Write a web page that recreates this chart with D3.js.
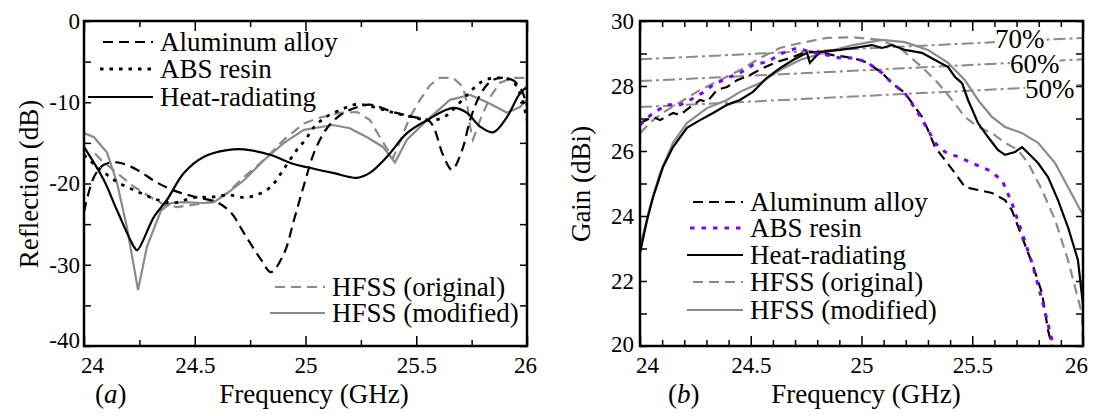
<!DOCTYPE html>
<html lang="en">
<head>
<meta charset="UTF-8">
<script src="https://d3js.org/d3.v7.min.js"></script>
<title>Reflection and gain</title>
<style>
  body { margin: 0; background: #fff; }
  svg, svg text { font-family: "Liberation Serif", "Times New Roman", Times, "DejaVu Serif", serif; }
  svg text { fill: #000; }
  .line { fill: none; }
</style>
</head>
<body>
<svg id="chart" width="1098" height="416" font-family="Liberation Serif"></svg>
<script>
// ---------- (a) reflection, [GHz, dB] ----------
var reflAlum = [[24.0,-23.5],[24.045,-19.2],[24.09,-17.7],[24.149,-17.4],[24.239,-18.3],[24.33,-19.9],
  [24.42,-21.0],[24.51,-21.7],[24.60,-22.3],[24.664,-23.6],[24.722,-26.1],[24.80,-29.4],[24.844,-30.9],
  [24.903,-28.6],[24.948,-24.5],[24.993,-20.2],[25.043,-15.9],[25.097,-13.2],[25.156,-11.6],[25.223,-10.7],
  [25.29,-10.3],[25.395,-11.2],[25.485,-11.8],[25.562,-12.4],[25.621,-16.5],[25.661,-18.3],[25.707,-15.9],
  [25.743,-12.2],[25.788,-9.1],[25.833,-7.5],[25.878,-7.0],[25.937,-7.3],[25.977,-8.6],[26.0,-10.5]];
var reflAbs = [[24.0,-16.5],[24.07,-18.2],[24.15,-19.8],[24.25,-21.1],[24.33,-22.0],[24.40,-22.4],
  [24.50,-21.7],[24.57,-21.7],[24.65,-21.4],[24.72,-21.7],[24.78,-21.4],[24.844,-20.4],[24.90,-18.3],
  [24.96,-15.9],[25.0,-14.6],[25.04,-13.0],[25.10,-11.7],[25.17,-10.8],[25.22,-10.3],[25.28,-10.4],
  [25.35,-10.9],[25.40,-11.3],[25.48,-11.8],[25.55,-12.2],[25.62,-11.9],[25.67,-10.8],[25.74,-8.8],
  [25.80,-7.4],[25.86,-7.0],[25.93,-7.3],[25.97,-9.0],[26.0,-12.2]];
var reflHeat = [[24.0,-15.5],[24.09,-19.6],[24.149,-23.3],[24.226,-27.8],[24.24,-28.2],[24.316,-24.1],
  [24.375,-22.0],[24.451,-18.7],[24.542,-16.7],[24.646,-15.9],[24.722,-15.8],[24.844,-16.5],[24.935,-17.5],
  [25.007,-18.0],[25.124,-18.7],[25.233,-19.3],[25.29,-18.7],[25.368,-16.7],[25.458,-13.8],[25.549,-12.2],
  [25.666,-10.7],[25.729,-11.3],[25.788,-13.0],[25.847,-13.7],[25.91,-11.8],[25.968,-8.9],[26.0,-8.1]];
var reflOrig = [[24.05,-16.3],[24.077,-17.1],[24.149,-18.7],[24.226,-20.4],[24.302,-21.7],[24.361,-22.6],
  [24.42,-22.9],[24.497,-22.6],[24.573,-22.3],[24.646,-21.2],[24.722,-19.2],[24.813,-17.1],[24.903,-14.6],
  [24.993,-12.6],[25.065,-11.9],[25.156,-11.3],[25.233,-11.2],[25.291,-12.2],[25.336,-14.3],[25.395,-16.9],
  [25.472,-11.8],[25.517,-9.7],[25.562,-7.9],[25.607,-7.0],[25.666,-7.0],[25.711,-8.1],[25.729,-10.1],
  [25.743,-13.0],[25.756,-14.6],[25.788,-12.2],[25.833,-9.4],[25.878,-7.6],[25.937,-7.0],[26.0,-7.0]];
var reflMod = [[24.0,-13.8],[24.045,-14.3],[24.104,-16.2],[24.149,-19.9],[24.194,-25.4],[24.244,-33.1],
  [24.284,-27.8],[24.348,-23.3],[24.393,-22.4],[24.451,-22.3],[24.542,-22.4],[24.587,-22.3],[24.646,-21.2],
  [24.722,-19.6],[24.813,-17.1],[24.903,-15.0],[24.993,-13.4],[25.124,-12.8],[25.20,-13.2],[25.278,-14.3],
  [25.35,-15.5],[25.404,-17.4],[25.458,-14.6],[25.549,-12.2],[25.652,-9.7],[25.743,-9.1],[25.82,-10.0],
  [25.91,-11.3],[25.968,-10.6],[26.0,-9.7]];

// ---------- (b) gain, [GHz, dBi] ----------
var gainAlum = [[24.0,26.86],[24.059,27.05],[24.09,26.95],[24.149,27.17],[24.181,27.11],[24.226,27.35],
  [24.271,27.57],[24.302,27.51],[24.348,27.88],[24.393,27.97],[24.438,28.18],[24.497,28.34],[24.555,28.55],
  [24.619,28.74],[24.691,28.89],[24.736,29.02],[24.799,29.05],[24.871,28.95],[24.935,28.89],[24.993,28.8],
  [25.029,28.71],[25.093,28.4],[25.138,28.09],[25.196,27.78],[25.242,27.35],[25.273,27.05],[25.30,26.65],
  [25.332,26.12],[25.377,25.72],[25.422,25.32],[25.467,24.89],[25.526,24.8],[25.589,24.71],[25.648,24.49],
  [25.679,24.18],[25.725,23.35],[25.77,22.55],[25.815,21.63],[25.842,20.49],[25.86,20.0]];
var gainAbs = [[24.0,26.8],[24.059,27.17],[24.122,27.42],[24.181,27.42],[24.226,27.57],[24.28,27.78],
  [24.33,28.03],[24.393,28.25],[24.451,28.4],[24.51,28.65],[24.573,28.74],[24.646,29.02],[24.709,29.17],
  [24.767,29.05],[24.844,28.95],[24.903,28.86],[24.971,28.86],[25.029,28.71],[25.093,28.4],[25.138,28.09],
  [25.196,27.78],[25.255,27.17],[25.30,26.65],[25.332,26.25],[25.377,25.97],[25.436,25.82],[25.499,25.63],
  [25.571,25.42],[25.634,25.11],[25.679,24.4],[25.725,23.48],[25.77,22.55],[25.815,21.42],[25.86,20.18],[25.869,20.0]];
var gainHeat = [[24.0,22.86],[24.032,23.88],[24.059,24.58],[24.104,25.51],[24.149,26.12],[24.212,26.71],
  [24.271,26.95],[24.33,27.17],[24.393,27.42],[24.451,27.57],[24.51,27.82],[24.573,28.25],[24.632,28.55],
  [24.691,28.8],[24.754,29.02],[24.767,28.71],[24.813,29.05],[24.903,29.11],[24.993,29.2],[25.047,29.26],
  [25.093,29.17],[25.138,29.26],[25.196,29.11],[25.273,29.02],[25.332,28.8],[25.391,28.58],[25.422,28.28],
  [25.454,28.09],[25.481,27.57],[25.526,26.86],[25.571,26.43],[25.616,26.03],[25.648,25.88],[25.693,25.97],
  [25.725,26.12],[25.752,25.94],[25.797,25.63],[25.842,25.2],[25.887,24.49],[25.932,23.66],[25.977,22.65],[26.0,21.26]];
var gainOrig = [[24.0,26.55],[24.059,26.95],[24.122,27.26],[24.181,27.5],[24.271,27.88],[24.361,28.18],
  [24.451,28.49],[24.542,28.86],[24.632,29.17],[24.722,29.32],[24.844,29.48],[24.962,29.5],[25.084,29.42],
  [25.174,29.17],[25.273,28.58],[25.345,28.09],[25.409,27.57],[25.467,27.05],[25.526,26.74],[25.589,26.55],
  [25.648,26.25],[25.707,26.03],[25.752,25.63],[25.815,24.8],[25.874,23.88],[25.932,22.65],[25.995,21.0],[26.0,20.0]];
var gainMod = [[24.0,23.05],[24.045,24.28],[24.09,25.32],[24.149,26.25],[24.212,26.86],[24.302,27.32],
  [24.393,27.57],[24.451,27.82],[24.542,28.09],[24.632,28.49],[24.722,28.8],[24.844,29.05],[24.962,29.26],
  [25.093,29.42],[25.196,29.35],[25.30,29.11],[25.391,28.71],[25.467,28.18],[25.526,27.57],[25.589,27.05],
  [25.648,26.74],[25.725,26.55],[25.797,26.25],[25.874,25.63],[25.932,24.89],[26.0,24.03]];

// aperture efficiency reference lines
var eff70 = [[24.0,28.82],[25.0,29.15],[26.0,29.48]];
var eff60 = [[24.0,28.15],[25.0,28.48],[26.0,28.82]];
var eff50 = [[24.0,27.35],[25.0,27.69],[26.0,28.03]];
var effLabels = ["70%", "60%", "50%"];

var seriesNames = ["Aluminum alloy", "ABS resin", "Heat-radiating", "HFSS (original)", "HFSS (modified)"];

// ticks
var xMajor = [24, 24.5, 25, 25.5, 26];
var xMinorA = [24.25, 24.75, 25.25, 25.75];
var xMinorB = [24.1, 24.2, 24.3, 24.4, 24.6, 24.7, 24.8, 24.9, 25.1, 25.2, 25.3, 25.4, 25.6, 25.7, 25.8, 25.9];
var yTicksA = [0, -10, -20, -30, -40];
var yMinorA = [-5, -15, -25, -35];
var yTicksB = [20, 22, 24, 26, 28, 30];
var yMinorB = [21, 23, 25, 27, 29];

var svg = d3.select("#chart");
var plotTop = 21, plotBottom = 346;
var grey = "#8a8a8a";

var xA = d3.scaleLinear().domain([24, 26]).range([84, 527]);
var yA = d3.scaleLinear().domain([-40, 0]).range([plotBottom, plotTop]);
var xB = d3.scaleLinear().domain([24, 26]).range([640, 1083]);
var yB = d3.scaleLinear().domain([20, 30]).range([plotBottom, plotTop]);

var styles = {
  alum:  {stroke: "#000", width: 2.2, dash: "10,6"},
  absA:  {stroke: "#000", width: 2.8, dash: "3.5,6"},
  absB:  {stroke: "#8000ff", width: 3, dash: "4.5,7"},
  heat:  {stroke: "#000", width: 2.2, dash: null},
  orig:  {stroke: grey,   width: 2.2, dash: "10,6"},
  mod:   {stroke: grey,   width: 2.2, dash: null},
  eff:   {stroke: grey,   width: 2,   dash: "12,4,3,4"}
};

function clip(id, x) {
  svg.append("clipPath").attr("id", id).append("rect")
    .attr("x", x.range()[0]).attr("y", plotTop)
    .attr("width", x.range()[1] - x.range()[0]).attr("height", plotBottom - plotTop);
}
clip("clipA", xA);
clip("clipB", xB);

function curve(data, x, y, st, clipId, smooth) {
  var line = d3.line()
    .x(function(d) { return x(d[0]); })
    .y(function(d) { return y(d[1]); })
    .curve(smooth ? d3.curveCatmullRom.alpha(0.5) : d3.curveLinear);
  svg.append("path").datum(data)
    .attr("class", "line")
    .attr("clip-path", "url(#" + clipId + ")")
    .attr("stroke", st.stroke)
    .attr("stroke-width", st.width)
    .attr("stroke-dasharray", st.dash)
    .attr("d", line);
}

// x label tweaks so the corner labels do not collide (as in the original)
function xShift(first, last) {
  return function(sel) {
    sel.selectAll(".tick text").attr("dx", function(d) {
      return d === 24 ? first : (d === 26 ? last : 0);
    });
  };
}

function axes(x, y, xMinor, yTicks, yMinor, yPad, first, last) {
  var fmt = function(d) { return String(d); };
  var x0 = x.range()[0], x1 = x.range()[1];
  // bottom, labelled
  svg.append("g").attr("transform", "translate(0," + plotBottom + ")")
    .call(d3.axisBottom(x).tickValues(xMajor).tickSize(-10).tickPadding(11).tickFormat(fmt))
    .call(xShift(first, last))
    .attr("font-size", 23).attr("font-family", null);
  svg.append("g").attr("transform", "translate(0," + plotBottom + ")")
    .call(d3.axisBottom(x).tickValues(xMinor).tickSize(-6).tickFormat(""));
  // top
  svg.append("g").attr("transform", "translate(0," + plotTop + ")")
    .call(d3.axisTop(x).tickValues(xMajor).tickSize(-10).tickFormat(""));
  svg.append("g").attr("transform", "translate(0," + plotTop + ")")
    .call(d3.axisTop(x).tickValues(xMinor).tickSize(-6).tickFormat(""));
  // left, labelled; lowest label lifted off the corner
  var lowest = d3.min(yTicks);
  svg.append("g").attr("transform", "translate(" + x0 + ",0)")
    .call(d3.axisLeft(y).tickValues(yTicks).tickSize(-7).tickPadding(yPad).tickFormat(fmt))
    .attr("font-size", 23).attr("font-family", null)
    .selectAll(".tick text").filter(function(d) { return d === lowest; })
      .attr("dy", y === yA ? "0.06em" : "0.25em");
  svg.append("g").attr("transform", "translate(" + x0 + ",0)")
    .call(d3.axisLeft(y).tickValues(yMinor).tickSize(-7).tickFormat(""));
  // right
  svg.append("g").attr("transform", "translate(" + x1 + ",0)")
    .call(d3.axisRight(y).tickValues(yTicks.concat(yMinor)).tickSize(-7).tickFormat(""));
  svg.selectAll(".domain").remove();
  svg.selectAll(".tick line").attr("stroke-width", 1.5);
  // frame
  svg.append("rect")
    .attr("x", x0).attr("y", plotTop)
    .attr("width", x1 - x0).attr("height", plotBottom - plotTop)
    .attr("fill", "none").attr("stroke", "#000").attr("stroke-width", 2.5);
}

function legendRow(x1, x2, y, label, st) {
  svg.append("line")
    .attr("x1", x1).attr("x2", x2).attr("y1", y).attr("y2", y)
    .attr("stroke", st.stroke).attr("stroke-width", st.width)
    .attr("stroke-dasharray", st.dash);
  svg.append("text")
    .attr("x", x2 + 7).attr("y", y + 8.5)
    .attr("font-size", 27)
    .text(label);
}

// ---------- panel (a) ----------
curve(reflOrig, xA, yA, styles.orig, "clipA", false);
curve(reflMod, xA, yA, styles.mod, "clipA", false);
curve(reflAlum, xA, yA, styles.alum, "clipA", true);
curve(reflAbs, xA, yA, styles.absA, "clipA", true);
curve(reflHeat, xA, yA, styles.heat, "clipA", true);
axes(xA, yA, xMinorA, yTicksA, yMinorA, 4, 8, -2);

legendRow(103, 153, 42, seriesNames[0], styles.alum);
legendRow(100, 153, 69, seriesNames[1], styles.absA);
legendRow(88, 153, 97, seriesNames[2], styles.heat);
legendRow(275, 325, 287, seriesNames[3], styles.orig);
legendRow(270, 325, 313, seriesNames[4], styles.mod);

// ---------- panel (b) ----------
[eff70, eff60, eff50].forEach(function(d) { curve(d, xB, yB, styles.eff, "clipB", false); });
var effPos = [[995, 48], [1010, 73], [1025, 98]];
effLabels.forEach(function(lab, i) {
  var g = svg.append("g");
  var t = g.append("text").attr("x", effPos[i][0]).attr("y", effPos[i][1])
    .attr("font-size", 27).text(lab);
  var bb = t.node().getBBox();
  g.insert("rect", "text")
    .attr("x", bb.x).attr("y", bb.y + 5).attr("width", bb.width).attr("height", bb.height - 10)
    .attr("fill", "#fff");
});

curve(gainOrig, xB, yB, styles.orig, "clipB", false);
curve(gainMod, xB, yB, styles.mod, "clipB", false);
curve(gainHeat, xB, yB, styles.heat, "clipB", false);
curve(gainAlum, xB, yB, styles.alum, "clipB", false);
curve(gainAbs, xB, yB, styles.absB, "clipB", false);
axes(xB, yB, xMinorB, yTicksB, yMinorB, 6, 7, -7);

legendRow(693, 743, 202, seriesNames[0], styles.alum);
legendRow(690, 743, 228, seriesNames[1], styles.absB);
legendRow(687, 743, 255, seriesNames[2], styles.heat);
legendRow(693, 743, 282, seriesNames[3], styles.orig);
legendRow(687, 743, 310, seriesNames[4], styles.mod);

// ---------- titles ----------
svg.append("text").attr("transform", "translate(38,184) rotate(-90)")
  .attr("text-anchor", "middle").attr("font-size", 27).text("Reflection (dB)");
svg.append("text").attr("transform", "translate(590,184) rotate(-90)")
  .attr("text-anchor", "middle").attr("font-size", 27).text("Gain (dBi)");
svg.append("text").attr("x", 314).attr("y", 403)
  .attr("text-anchor", "middle").attr("font-size", 27).text("Frequency (GHz)");
svg.append("text").attr("x", 866).attr("y", 403)
  .attr("text-anchor", "middle").attr("font-size", 27).text("Frequency (GHz)");

function panelTag(x, letter) {
  var t = svg.append("text").attr("x", x).attr("y", 403).attr("font-size", 27);
  t.append("tspan").text("(");
  t.append("tspan").attr("font-style", "italic").text(letter);
  t.append("tspan").text(")");
}
panelTag(95, "a");
panelTag(668, "b");
</script>
</body>
</html>
